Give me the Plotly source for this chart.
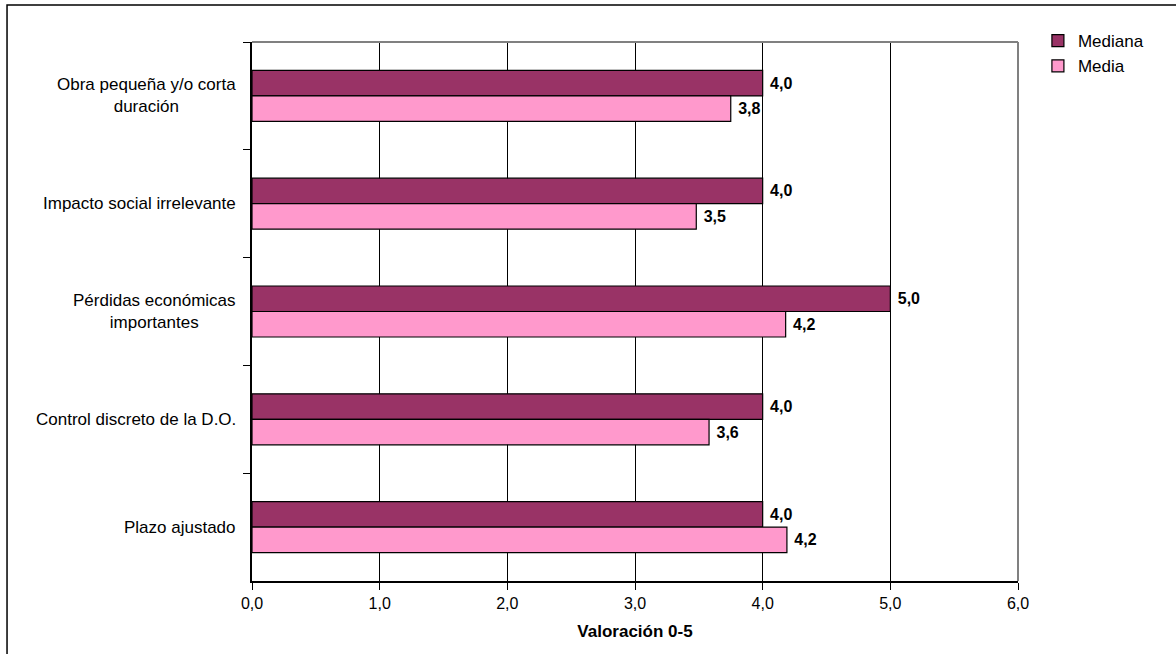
import plotly.graph_objects as go

categories = [
    "Obra pequeña y/o corta<br>duración",
    "Impacto social irrelevante",
    "Pérdidas económicas<br>importantes",
    "Control discreto de la D.O.",
    "Plazo ajustado",
]
mediana = [4.0, 4.0, 5.0, 4.0, 4.0]
media = [3.75, 3.48, 4.18, 3.58, 4.19]
x_ticks = [0, 1, 2, 3, 4, 5, 6]

FONT = "Liberation Sans Narrow, Arial Narrow, Liberation Sans, Arial, sans-serif"

fig = go.Figure()
fig.add_trace(go.Bar(
    y=categories, x=mediana, name="Mediana", orientation="h",
    marker=dict(color="#993366", line=dict(color="#000000", width=1.2)),
    texttemplate=" %{x:.1f}", textposition="outside", cliponaxis=False,
    textfont=dict(family=FONT, size=16, color="#000000", weight="bold"),
))
fig.add_trace(go.Bar(
    y=categories, x=media, name="Media", orientation="h",
    marker=dict(color="#FF99CC", line=dict(color="#000000", width=1.2)),
    texttemplate=" %{x:.1f}", textposition="outside", cliponaxis=False,
    textfont=dict(family=FONT, size=16, color="#000000", weight="bold"),
))

# category labels, centred line by line
for c in categories:
    fig.add_annotation(
        x=0, xref="paper", y=c, yref="y", xanchor="right", xshift=-14,
        text=c, showarrow=False, align="center",
        font=dict(family=FONT, size=17, color="#000000"),
    )

shapes = [
    # outer chart frame
    dict(type="rect", xref="paper", yref="paper", x0=-0.3198, x1=1.25, y0=-0.16, y1=1.0686,
         line=dict(color="#000000", width=1.5), fillcolor="rgba(0,0,0,0)", layer="below"),
    # grey top and right edges of the plot area
    dict(type="line", xref="paper", yref="paper", x0=0, x1=1, y0=1, y1=1,
         line=dict(color="#808080", width=2)),
    dict(type="line", xref="paper", yref="paper", x0=1, x1=1, y0=0, y1=1,
         line=dict(color="#808080", width=2)),
]

fig.update_layout(
    width=1176, height=654,
    margin=dict(l=252, r=158, t=42, b=73),
    paper_bgcolor="#FFFFFF", plot_bgcolor="#FFFFFF",
    separators=",.",
    barmode="group", bargap=0.527, bargroupgap=0,
    font=dict(family=FONT, size=16, color="#000000"),
    showlegend=True,
    legend=dict(x=1.026, y=1.035, xanchor="left", yanchor="top",
                font=dict(family=FONT, size=17, color="#000000"),
                traceorder="normal", tracegroupgap=0, itemwidth=30,
                bgcolor="rgba(0,0,0,0)"),
    shapes=shapes,
    xaxis=dict(
        range=[0, 6], tickvals=x_ticks, tickformat=".1f",
        showgrid=True, gridcolor="#000000", gridwidth=1,
        showline=True, linecolor="#000000", linewidth=1.5,
        ticks="outside", ticklen=7, tickcolor="#000000",
        zeroline=False,
        tickfont=dict(family=FONT, size=16, color="#000000"),
        title=dict(text="<b>Valoración 0-5</b>", standoff=14,
                   font=dict(family=FONT, size=17, color="#000000")),
    ),
    yaxis=dict(
        autorange="reversed", showticklabels=False,
        showline=True, linecolor="#000000", linewidth=1.5,
        ticks="outside", ticklen=7, tickcolor="#000000", tickson="boundaries",
        showgrid=False, zeroline=False,
    ),
)

fig.write_html("out.html")
